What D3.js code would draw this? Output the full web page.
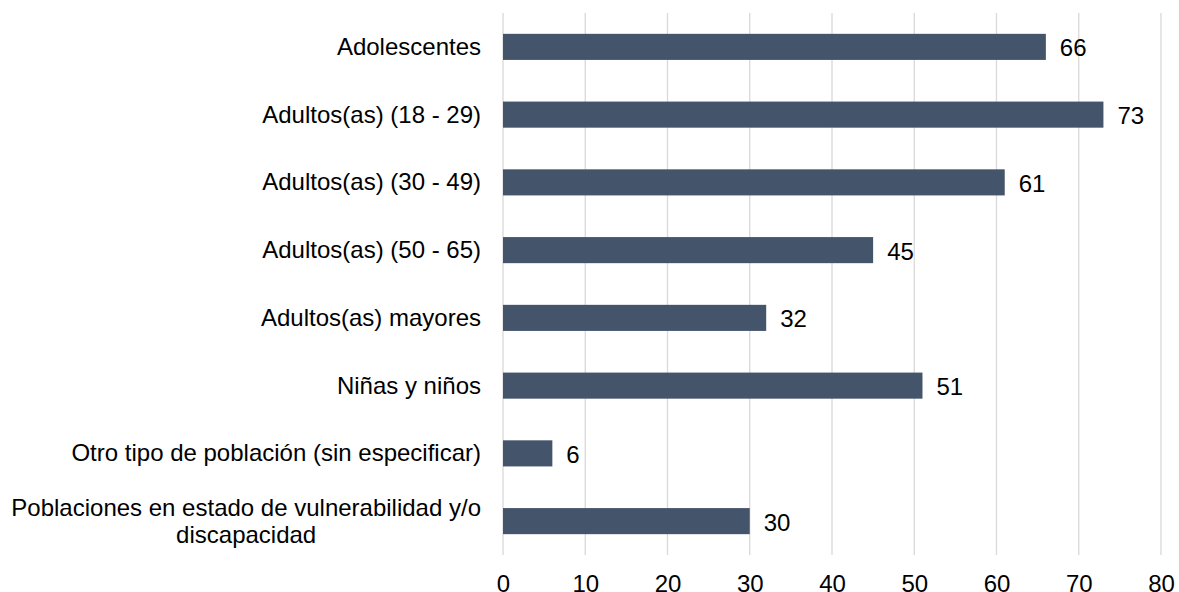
<!DOCTYPE html>
<html><head><meta charset="utf-8">
<script src="https://cdn.jsdelivr.net/npm/d3@7"></script>
<style>body{margin:0;background:#fff}svg{display:block}text{font-family:"Liberation Sans",Arial,sans-serif}</style>
</head><body>
<svg id="c" width="1179" height="592"></svg>
<script>
const categories = [
  "Adolescentes",
  "Adultos(as) (18 - 29)",
  "Adultos(as) (30 - 49)",
  "Adultos(as) (50 - 65)",
  "Adultos(as) mayores",
  "Niñas y niños",
  "Otro tipo de población (sin especificar)",
  "Poblaciones en estado de vulnerabilidad y/o discapacidad"
];
const categoryLines = [
  ["Adolescentes"],
  ["Adultos(as) (18 - 29)"],
  ["Adultos(as) (30 - 49)"],
  ["Adultos(as) (50 - 65)"],
  ["Adultos(as) mayores"],
  ["Niñas y niños"],
  ["Otro tipo de población (sin especificar)"],
  ["Poblaciones en estado de vulnerabilidad y/o", "discapacidad"]
];
const values = [66, 73, 61, 45, 32, 51, 6, 30];
const tickValues = [0, 10, 20, 30, 40, 50, 60, 70, 80];

(function () {
const svg = d3.select("#c");
const mLeft = 503, mRight = 1161, mTop = 13, mBottom = 555;
const fs = 24;
const x = d3.scaleLinear().domain([0, 80]).range([mLeft, mRight]);
const y = d3.scaleBand().domain(categories).range([mTop, mBottom]).paddingInner(0.615).paddingOuter(0.3075);

// gridlines
svg.append("g").selectAll("line").data(tickValues).join("line")
  .attr("x1", d => x(d)).attr("x2", d => x(d))
  .attr("y1", mTop).attr("y2", mBottom)
  .attr("stroke", "#d9d9d9").attr("stroke-width", 1.3);

// x axis labels
const xAxis = d3.axisBottom(x).tickValues(tickValues).tickSize(0).tickPadding(0);
const gx = svg.append("g").attr("transform", `translate(0,${mBottom})`).call(xAxis);
gx.select(".domain").remove();
gx.selectAll("text").attr("font-size", fs).attr("fill", "#000")
  .attr("font-family", "Liberation Sans, Arial, sans-serif")
  .attr("dy", null).attr("y", 36.5);

// bars
svg.append("g").selectAll("rect").data(values).join("rect")
  .attr("x", x(0)).attr("y", (d, i) => y(categories[i]))
  .attr("width", d => x(d) - x(0)).attr("height", y.bandwidth())
  .attr("fill", "#44546A");

// value labels
svg.append("g").selectAll("text").data(values).join("text")
  .attr("x", d => x(d) + 14)
  .attr("y", (d, i) => y(categories[i]) + y.bandwidth() / 2 + 1)
  .attr("dominant-baseline", "central")
  .attr("font-size", fs).attr("fill", "#000")
  .text(d => d);

// category labels
const labelRight = 481;
categories.forEach((c, i) => {
  const lines = categoryLines[i];
  const cy = y(c) + y.bandwidth() / 2;
  const g = svg.append("g");
  const lh = 27;
  const texts = lines.map((l, j) => g.append("text")
    .attr("font-size", fs).attr("fill", "#000")
    .attr("dominant-baseline", "central")
    .attr("y", cy + (j - (lines.length - 1) / 2) * lh - 0.5)
    .text(l));
  const maxW = d3.max(texts, t => t.node().getComputedTextLength());
  texts.forEach(t => t.attr("text-anchor", "middle").attr("x", labelRight - maxW / 2));
});
})();
</script>
</body></html>
